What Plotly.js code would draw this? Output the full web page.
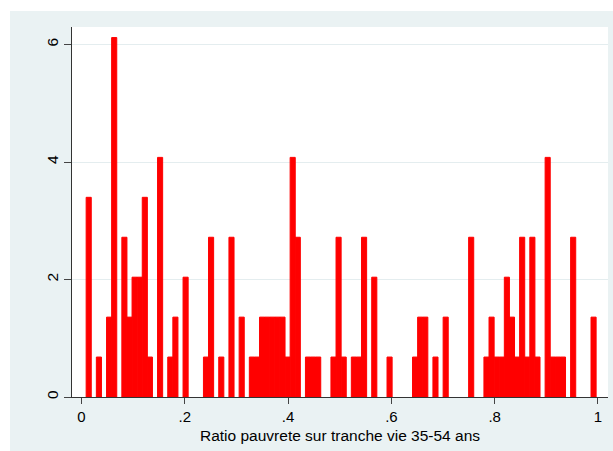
<!DOCTYPE html>
<html>
<head>
<meta charset="utf-8">
<script src="https://cdn.plot.ly/plotly-3.0.1.min.js"></script>
<style>html,body{margin:0;padding:0;background:#fff;}#chart{width:613px;height:451px;}</style>
</head>
<body>
<div id="chart"></div>
<script>
// Histogram: 100 equal-width bins, density per bin
const binStart = 0.009;
const binWidth = 0.009874;
const density = [
  3.40, 0, 0.68, 0, 1.36, 6.12, 0, 2.72, 1.36, 2.04,
  2.04, 3.40, 0.68, 0, 4.08, 0, 0.68, 1.36, 0, 2.04,
  0, 0, 0, 0.68, 2.72, 0, 0.68, 0, 2.72, 0,
  1.36, 0, 0.68, 0.68, 1.36, 1.36, 1.36, 1.36, 1.36, 0.68,
  4.08, 2.72, 0, 0.68, 0.68, 0.68, 0, 0, 0.68, 2.72,
  0.68, 0, 0.68, 0.68, 2.72, 0, 2.04, 0, 0, 0.68,
  0, 0, 0, 0, 0.68, 1.36, 1.36, 0, 0.68, 0,
  1.36, 0, 0, 0, 0, 2.72, 0, 0, 0.68, 1.36,
  0.68, 0.68, 2.04, 1.36, 0.68, 2.72, 0.68, 2.72, 0.68, 0,
  4.08, 0.68, 0.68, 0.68, 0, 2.72, 0, 0, 0, 1.36
];
const xTickVals = [0, 0.2, 0.4, 0.6, 0.8, 1];
const xTickText = ['0', '.2', '.4', '.6', '.8', '1'];
const yTickVals = [0, 2, 4, 6];
const yTickText = ['0', '2', '4', '6'];
const xTitle = 'Ratio pauvrete sur tranche vie 35-54 ans';

const xs = [], ys = [];
density.forEach((d, i) => {
  if (d > 0) { xs.push(binStart + binWidth * (i + 0.5)); ys.push(d); }
});

const W = 613, H = 451;
const m = {l: 72, r: 5, t: 27, b: 54, pad: 0};
const pw = W - m.l - m.r, ph = H - m.t - m.b;
const px2x = p => (p - m.l) / pw;
const py2y = p => 1 - (p - m.t) / ph;

const font = 'Liberation Sans, Arial, sans-serif';

const trace = {
  type: 'bar',
  x: xs,
  y: ys,
  width: binWidth,
  marker: {color: '#FF0000', line: {color: '#FF0000', width: 1}},
  hoverinfo: 'x+y'
};

const layout = {
  width: W, height: H,
  margin: m,
  paper_bgcolor: '#EAF2F3',
  plot_bgcolor: '#FFFFFF',
  showlegend: false,
  bargap: 0,
  font: {family: font, color: '#000000', size: 15.5},
  xaxis: {
    range: [-0.0184, 1.0194],
    tickmode: 'array', tickvals: xTickVals, ticktext: xTickText,
    ticks: 'outside', ticklen: 6, tickwidth: 1, tickcolor: '#444444',
    showline: true, linecolor: '#333333', linewidth: 1,
    showgrid: false, zeroline: false,
    tickfont: {family: font, size: 15, color: '#000000'}
  },
  yaxis: {
    range: [0, 6.3],
    tickmode: 'array', tickvals: yTickVals, ticktext: yTickText,
    ticks: 'outside', ticklen: 7, tickwidth: 1, tickcolor: '#444444',
    tickangle: -90,
    showline: true, linecolor: '#333333', linewidth: 1,
    showgrid: true, gridcolor: '#E4EDEF', gridwidth: 1,
    zeroline: false,
    tickfont: {family: font, size: 15.5, color: '#000000'}
  },
  annotations: [
    {text: xTitle, xref: 'paper', yref: 'paper', x: 0.5, y: py2y(435),
     xanchor: 'center', yanchor: 'middle', showarrow: false,
     font: {family: font, size: 15.5, color: '#000000'}}
  ],
  shapes: [
    {type: 'rect', xref: 'paper', yref: 'paper', layer: 'below', line: {width: 0},
     fillcolor: '#FFFFFF', x0: px2x(0), x1: px2x(10), y0: py2y(H), y1: py2y(0)},
    {type: 'rect', xref: 'paper', yref: 'paper', layer: 'below', line: {width: 0},
     fillcolor: '#FFFFFF', x0: px2x(0), x1: px2x(W), y0: py2y(11), y1: py2y(0)}
  ]
};

Plotly.newPlot('chart', [trace], layout, {displayModeBar: false, staticPlot: true});
</script>
</body>
</html>
